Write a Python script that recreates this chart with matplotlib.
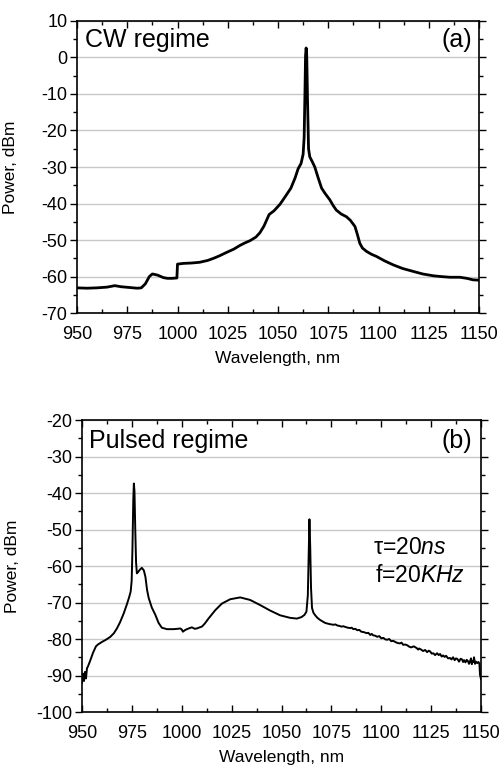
import matplotlib
matplotlib.use("Agg")
import matplotlib.pyplot as plt
from matplotlib.ticker import MultipleLocator

plt.rcParams['font.family'] = ['Liberation Sans', 'DejaVu Sans']
plt.rcParams['mathtext.fontset'] = 'custom'
plt.rcParams['mathtext.rm'] = 'Liberation Sans'
plt.rcParams['mathtext.it'] = 'Liberation Sans:italic'
plt.rcParams['axes.unicode_minus'] = False

# ---- Panel (a): CW regime ----
cw_wl = [950, 955, 960, 965, 968.8, 972, 976, 980, 982, 984, 986, 987.5, 990, 993, 995, 997, 999.7,
         1000.0, 1003, 1007, 1011, 1015, 1018, 1021, 1024, 1028, 1031, 1033.5, 1036, 1039, 1041, 1043,
         1045.6, 1048, 1051, 1053.5, 1056.4, 1058.5, 1060, 1061.5, 1062.5, 1063.0, 1063.4, 1063.7,
         1064.0, 1064.3, 1064.7, 1065.2, 1065.8, 1067, 1068.3, 1070, 1071.7, 1073.5, 1075.8, 1077.5, 1079,
         1081.5, 1084, 1086, 1088.3, 1089.5, 1090.7, 1092, 1094, 1096.5, 1099, 1103, 1107.3, 1112,
         1117.3, 1122, 1127.3, 1131, 1135.6, 1140.5, 1144, 1147, 1150]
cw_pw = [-63.1, -63.2, -63.1, -62.9, -62.5, -62.8, -63.0, -63.2, -63.1, -62.0, -60.0, -59.3, -59.6, -60.3, -60.5, -60.5, -60.4,
         -56.6, -56.4, -56.3, -56.1, -55.6, -55.0, -54.3, -53.5, -52.5, -51.5, -50.8, -50.2, -49.2, -48.0, -46.2,
         -43.0, -42.0, -40.2, -38.2, -35.8, -33.0, -30.5, -29.0, -26.5, -22.0, -10.0, 0.5,
         2.6, 0.5, -12.0, -25.0, -27.2, -28.5, -30.0, -33.0, -35.8, -37.3, -39.0, -40.6, -41.8,
         -42.9, -43.6, -44.6, -46.3, -48.5, -50.9, -52.2, -53.1, -53.9, -54.5, -55.7, -56.8, -57.8,
         -58.6, -59.3, -59.8, -60.0, -60.2, -60.2, -60.5, -60.9, -61.0]

# ---- Panel (b): Pulsed regime ----
pu_wl = [950.0, 950.5, 951.0, 951.5, 952.0, 952.5, 953.0, 954.2, 955.5, 957.0, 958.0, 960.0, 962.0, 964.2,
         966.0, 967.5, 969.0, 970.9, 972.5, 973.6, 974.4, 974.9, 975.3, 975.7, 976.0, 976.3, 976.7,
         977.1, 977.5, 978.2, 979.0, 980.0, 981.0, 981.8, 982.6, 983.4, 985.0, 986.7, 988.4, 990.0,
         992.6, 995.9, 998.0, 999.2, 1000.0, 1000.6, 1001.5, 1002.6, 1004.0, 1005.1, 1006.5, 1007.6,
         1009.0, 1010.1, 1011.5, 1013.4, 1016.8, 1020.1, 1024.3, 1029.3, 1034.3, 1039.3, 1044.3,
         1049.3, 1054.3, 1057.7, 1060.0, 1061.5, 1062.5, 1063.2, 1063.6, 1064.0, 1064.4, 1064.8,
         1065.3, 1066.0, 1066.9, 1068.0, 1069.4, 1071.9, 1074.0, 1076.0, 1077.0, 1078.0, 1079.0, 1080.0,
         1081.0, 1082.0, 1083.2, 1084.4, 1085.2, 1086.0, 1087.0, 1088.0, 1089.0, 1090.0, 1091.2, 1092.7,
         1093.5, 1094.5, 1095.2, 1096.0, 1097.0, 1098.0, 1099.0, 1100.0, 1101.1, 1102.0, 1103.0,
         1104.0, 1105.0, 1106.0, 1107.0, 1108.2, 1109.4, 1110.2, 1111.0, 1112.0, 1113.0, 1114.0,
         1115.0, 1116.3, 1117.8, 1118.5, 1119.0, 1120.0, 1121.0, 1122.0, 1123.0, 1123.8, 1124.5,
         1125.3, 1126.1, 1127.0, 1128.0, 1128.8, 1129.5, 1130.3, 1131.0, 1131.8, 1132.5, 1133.5,
         1134.5, 1135.2, 1136.0, 1136.8, 1137.5, 1138.2, 1139.0, 1139.8, 1140.5, 1141.0, 1141.5,
         1142.2, 1142.8, 1143.4, 1144.0, 1144.5, 1145.0, 1145.4, 1145.8, 1146.2, 1146.5, 1147.0,
         1147.5, 1148.1, 1148.7, 1149.2, 1149.5, 1150.0]
pu_pw = [-92.0, -89.5, -91.5, -89.0, -90.8, -88.0, -87.5, -85.8, -83.8, -82.0, -81.5, -80.8, -80.2, -79.4,
         -78.4, -77.1, -75.5, -73.0, -70.5, -68.6, -67.0, -64.0, -55.0, -42.0, -37.4, -39.5, -50.0,
         -59.0, -62.0, -61.6, -61.0, -60.5, -61.2, -63.0, -66.5, -68.7, -71.4, -73.3, -75.6, -76.9,
         -77.3, -77.3, -77.2, -77.1, -77.4, -78.0, -77.6, -77.3, -77.0, -76.8, -77.2, -77.1,
         -76.8, -76.6, -75.8, -74.4, -72.1, -70.3, -69.1, -68.6, -69.3, -70.7, -72.2,
         -73.5, -74.2, -74.4, -74.0, -73.4, -72.5, -68.0, -58.0, -47.2, -55.0, -66.0,
         -71.5, -72.8, -73.5, -74.2, -74.8, -75.6, -75.9, -76.1, -76.0, -76.3, -76.4, -76.6,
         -76.5, -76.7, -76.9, -77.0, -76.9, -77.3, -77.2, -77.6, -77.5, -78.0, -78.1, -78.4,
         -78.3, -78.9, -78.6, -79.0, -79.1, -79.4, -79.2, -79.8, -79.7, -80.1, -80.2,
         -80.0, -80.6, -80.5, -80.8, -81.1, -81.2, -81.0, -81.6, -81.5, -81.7, -82.1,
         -82.3, -82.0, -82.5, -82.9, -82.6, -82.9, -83.3, -83.0, -83.6, -83.2, -83.4,
         -84.0, -83.9, -84.4, -83.9, -84.4, -84.1, -84.8, -84.5, -84.9, -84.6, -85.3,
         -85.2, -85.6, -85.0, -85.8, -85.3, -85.5, -86.2, -85.4, -85.6, -86.3, -85.8,
         -86.4, -85.7, -86.0, -86.8, -86.1, -85.3, -86.9, -86.0, -86.3, -85.0, -86.8,
         -86.2, -86.6, -86.3, -86.7, -89.8, -91.0]

x_ticks = [950, 975, 1000, 1025, 1050, 1075, 1100, 1125, 1150]

fig = plt.figure(figsize=(5.0, 7.68), dpi=100)
ax1 = fig.add_axes([0.154, 0.5924, 0.804, 0.3803])
ax2 = fig.add_axes([0.164, 0.0729, 0.798, 0.3802])

def style(ax, ylo, yhi, ylab_x):
    ax.set_xlim(950, 1150)
    ax.set_ylim(ylo, yhi)
    ax.set_xticks(x_ticks)
    ax.set_yticks(range(ylo, yhi + 1, 10))
    ax.xaxis.set_minor_locator(MultipleLocator(12.5))
    ax.yaxis.set_minor_locator(MultipleLocator(5))
    ax.yaxis.grid(True, color='#c8c8c8', lw=1.0)
    ax.set_axisbelow(True)
    ax.tick_params(axis='both', which='both', top=True, right=True, labelsize=13, width=1.0)
    ax.tick_params(axis='x', which='major', direction='in', length=5, pad=9)
    ax.tick_params(axis='x', which='minor', direction='in', length=3)
    ax.tick_params(axis='y', which='major', direction='out', length=5, pad=2)
    ax.tick_params(axis='y', which='minor', direction='out', length=3)
    for s in ax.spines.values():
        s.set_linewidth(1.2)
    ax.set_xlabel('Wavelength, nm', fontsize=12.5, labelpad=6)
    ax.set_ylabel('Power, dBm', fontsize=12.5)
    ax.yaxis.set_label_coords(ylab_x, 0.5)

style(ax1, -70, 10, -0.147)
style(ax2, -100, -20, -0.155)

ax1.plot(cw_wl, cw_pw, color='black', lw=2.0)
ax2.plot(pu_wl, pu_pw, color='black', lw=1.4)

ax1.text(0.02, 0.975, 'CW regime', transform=ax1.transAxes, fontsize=18, va='top', ha='left')
ax1.text(0.983, 0.975, '(a)', transform=ax1.transAxes, fontsize=18, va='top', ha='right')
ax2.text(0.018, 0.97, 'Pulsed regime', transform=ax2.transAxes, fontsize=18, va='top', ha='left')
ax2.text(0.977, 0.97, '(b)', transform=ax2.transAxes, fontsize=18, va='top', ha='right')
ax2.text(0.73, 0.565, 'τ=20$\\mathit{ns}$', transform=ax2.transAxes, fontsize=16.5, va='center', ha='left')
ax2.text(0.735, 0.469, 'f=20$\\mathit{KHz}$', transform=ax2.transAxes, fontsize=16.5, va='center', ha='left')

fig.savefig('out.png', dpi=100)
